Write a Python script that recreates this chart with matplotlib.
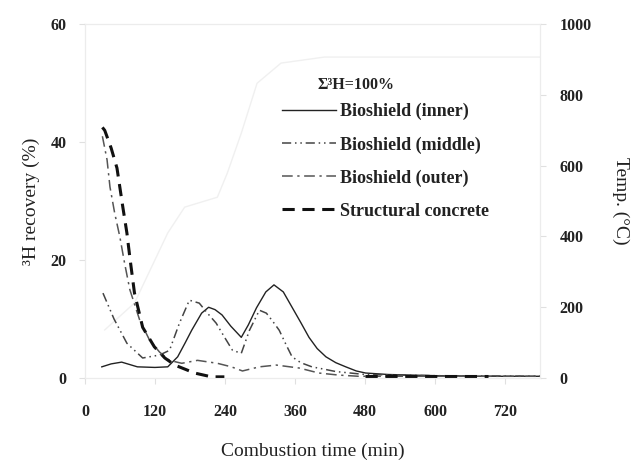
import matplotlib
matplotlib.use("Agg")
import matplotlib.pyplot as plt

plt.rcParams["font.family"] = ["Liberation Serif", "DejaVu Serif"]

# tritium recovery (%) vs combustion time (min)
t_inner = [29, 45, 63, 90, 120, 142, 159, 172, 183, 200, 212, 223, 235, 250, 268, 280, 294, 310, 324, 340, 355, 370, 384, 398, 413, 430, 447, 465, 481, 520, 600, 700, 780]
y_inner = [1.9, 2.4, 2.7, 1.9, 1.8, 1.9, 3.6, 6.0, 8.1, 11.0, 12.0, 11.6, 10.7, 8.8, 6.9, 9.0, 11.9, 14.6, 15.8, 14.6, 12.0, 9.4, 6.9, 5.0, 3.6, 2.6, 1.9, 1.2, 0.85, 0.6, 0.4, 0.3, 0.3]

t_middle = [31, 50, 72, 99, 128, 145, 162, 179, 196, 210, 225, 240, 253, 268, 282, 299, 311, 322, 333, 345, 355, 370, 389, 410, 430, 480, 600, 780]
y_middle = [14.4, 10.0, 5.9, 3.4, 3.9, 4.7, 9.3, 13.2, 12.7, 11.0, 9.3, 6.8, 4.7, 4.2, 8.1, 11.5, 11.0, 9.6, 8.1, 5.6, 3.6, 2.6, 1.9, 1.5, 1.1, 0.6, 0.4, 0.3]

t_outer = [30, 38, 43, 51, 60, 68, 77, 94, 111, 128, 145, 166, 193, 227, 251, 270, 299, 328, 367, 401, 435, 469, 600, 780]
y_outer = [41.0, 37.0, 32.4, 28.0, 23.9, 19.5, 15.0, 9.8, 6.4, 4.4, 3.0, 2.5, 3.0, 2.5, 1.9, 1.2, 1.9, 2.2, 1.7, 0.85, 0.5, 0.3, 0.3, 0.3]

t_struct = [30, 34, 45, 55, 65, 72, 77, 85, 99, 119, 137, 154, 188, 217, 239]
y_struct = [42.5, 42.0, 39.0, 35.6, 29.0, 24.6, 20.5, 14.4, 8.6, 5.3, 3.4, 2.2, 0.85, 0.2, 0.2]
t_struct_late = [480, 560, 690]
y_struct_late = [0.3, 0.3, 0.3]

# furnace temperature (°C)
t_temp = [34, 85, 142, 171, 227, 244, 268, 295, 336, 410, 780]
y_temp = [136, 212, 410, 483, 511, 579, 692, 833, 890, 907, 907]

x_ticks = [0, 120, 240, 360, 480, 600, 720]
y_ticks = [0, 20, 40, 60]
temp_ticks = [0, 200, 400, 600, 800, 1000]

fig = plt.figure(figsize=(6.43, 4.65), dpi=100)
ax = fig.add_axes([0.132, 0.187, 0.708, 0.761])
ax2 = ax.twinx()

ax2.plot(t_temp, y_temp, color="#f0f0f0", lw=1.0, zorder=1)
ax2.set_ylim(0, 1000)
ax2.set_yticks(temp_ticks)

ax.set_zorder(ax2.get_zorder() + 1)
ax.patch.set_visible(False)

ax.plot(t_inner, y_inner, color="#222222", lw=1.0, ls="-", label="Bioshield (inner)")
ax.plot(t_middle, y_middle, color="#444444", lw=1.1, ls=(0, (6, 2.5, 1, 2.5, 1, 2.5)),
        label="Bioshield (middle)")
ax.plot(t_outer, y_outer, color="#555555", lw=1.1, ls=(0, (7, 3, 1.5, 3)),
        label="Bioshield (outer)")
ax.plot(t_struct, y_struct, color="#111111", lw=2.2, ls=(0, (4, 2.5)),
        label="Structural concrete")
ax.plot(t_struct_late, y_struct_late, color="#111111", lw=2.2, ls=(0, (4, 2.5)))

ax.set_xlim(0, 780)
ax.set_ylim(0, 60)
ax.set_xticks(x_ticks)
ax.set_yticks(y_ticks)

for a in (ax, ax2):
    for s in a.spines.values():
        s.set_color("#ececec")
        s.set_linewidth(0.8)
    a.tick_params(colors="#e0e0e0", labelcolor="#222222", labelsize=11.5, length=4, width=0.8)
    for lbl in a.get_xticklabels() + a.get_yticklabels():
        lbl.set_fontweight("bold")
ax.tick_params(axis="x", pad=15)
ax.tick_params(axis="y", pad=9)
ax2.tick_params(axis="y", pad=10)

ax.set_xlabel("Combustion time (min)", fontsize=14, color="#222222", labelpad=16)
ax.set_ylabel("³H recovery (%)", fontsize=14, color="#222222", labelpad=8)
ax2.set_ylabel("Temp. (°C)", fontsize=14, color="#222222", rotation=270, labelpad=27)

ax.text(0.512, 0.828, "Σ³H=100%", transform=ax.transAxes, fontsize=11.5,
        fontweight="bold", color="#222222", ha="left", va="center")

leg = ax.legend(loc="upper left", bbox_to_anchor=(0.433, 0.777), frameon=False,
                handlelength=3.0, labelspacing=0.88,
                handletextpad=0.2, borderaxespad=0, borderpad=0,
                prop={"weight": "bold", "size": 13})
for txt in leg.get_texts():
    txt.set_color("#222222")

fig.savefig("out.png", dpi=100)
